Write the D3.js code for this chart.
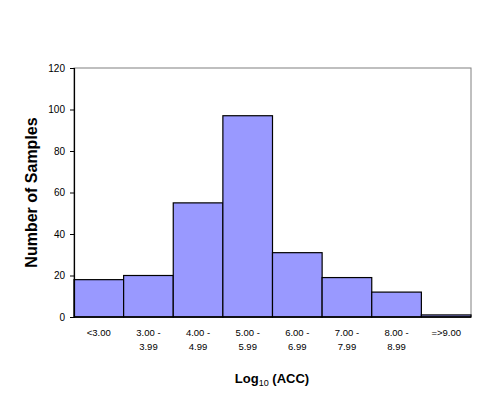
<!DOCTYPE html>
<html>
<head>
<meta charset="utf-8">
<script src="https://cdn.jsdelivr.net/npm/d3@7"></script>
<style>
  body { margin: 0; background: #fff; }
  text { font-family: "Liberation Sans", Arial, sans-serif; }
</style>
</head>
<body>
<div id="chart"></div>
<script>
// bins of log10(ACC) and counts
var binLabels = [["<3.00"], ["3.00 -", "3.99"], ["4.00 -", "4.99"], ["5.00 -", "5.99"],
                 ["6.00 -", "6.99"], ["7.00 -", "7.99"], ["8.00 -", "8.99"], ["=>9.00"]];
var counts = [18, 20, 55, 97, 31, 19, 12, 1];
var yTicks = [0, 20, 40, 60, 80, 100, 120];

var svgWidth = 492, svgHeight = 398;
// plot area edges (note: "top" is taken by window.top)
var plotLeft = 74, plotRight = 471, plotTop = 68, plotBottom = 317;

var svg = d3.select("#chart").append("svg")
    .attr("width", svgWidth)
    .attr("height", svgHeight);

var x = d3.scaleBand()
    .domain(d3.range(counts.length))
    .range([plotLeft, plotRight])
    .padding(0);

var y = d3.scaleLinear()
    .domain([0, 120])
    .range([plotBottom, plotTop]);

// plot frame (grey top/right)
svg.append("rect")
    .attr("x", plotLeft).attr("y", plotTop)
    .attr("width", plotRight - plotLeft).attr("height", plotBottom - plotTop)
    .attr("fill", "none")
    .attr("stroke", "#808080")
    .attr("stroke-width", 1);

// bars
svg.selectAll("rect.bar")
    .data(counts)
    .enter().append("rect")
        .attr("class", "bar")
        .attr("x", function(d, i) { return x(i); })
        .attr("y", function(d) { return y(d); })
        .attr("width", x.bandwidth())
        .attr("height", function(d) { return y(0) - y(d); })
        .attr("fill", "#9999ff")
        .attr("stroke", "#000")
        .attr("stroke-width", 1.2);

// y axis
var yAxis = svg.append("g")
    .attr("transform", "translate(" + plotLeft + ",0)")
    .call(d3.axisLeft(y).tickValues(yTicks).tickSize(4).tickPadding(5));
yAxis.select(".domain").attr("stroke", "#000").attr("stroke-width", 1.2);
yAxis.selectAll(".tick line").attr("stroke", "#000");
yAxis.selectAll(".tick text")
    .attr("font-size", "10px")
    .attr("font-family", "Liberation Sans, Arial, sans-serif")
    .attr("fill", "#000");

// x axis line
svg.append("line")
    .attr("x1", plotLeft).attr("x2", plotRight)
    .attr("y1", plotBottom).attr("y2", plotBottom)
    .attr("stroke", "#000")
    .attr("stroke-width", 1.5);

// x category labels
var xl = svg.selectAll("text.xlab")
    .data(binLabels)
    .enter().append("text")
        .attr("class", "xlab")
        .attr("text-anchor", "middle")
        .attr("font-size", "9.5px")
        .attr("x", function(d, i) { return x(i) + x.bandwidth() / 2; })
        .attr("y", 336);
xl.selectAll("tspan")
    .data(function(d) { return d; })
    .enter().append("tspan")
        .attr("x", function() { return d3.select(this.parentNode).attr("x"); })
        .attr("dy", function(d, i) { return i === 0 ? 0 : 14; })
        .text(function(d) { return d; });

// axis titles
svg.append("text")
    .attr("transform", "translate(37," + ((plotTop + plotBottom) / 2) + ") rotate(-90)")
    .attr("text-anchor", "middle")
    .attr("font-size", "16px")
    .attr("font-weight", "bold")
    .text("Number of Samples");

var xt = svg.append("text")
    .attr("x", 272)
    .attr("y", 383)
    .attr("text-anchor", "middle")
    .attr("font-size", "13px")
    .attr("font-weight", "bold");
xt.append("tspan").text("Log");
xt.append("tspan").attr("font-size", "9px").attr("dy", 3).attr("font-weight", "normal").text("10");
xt.append("tspan").attr("dy", -3).text(" (ACC)");
</script>
</body>
</html>
